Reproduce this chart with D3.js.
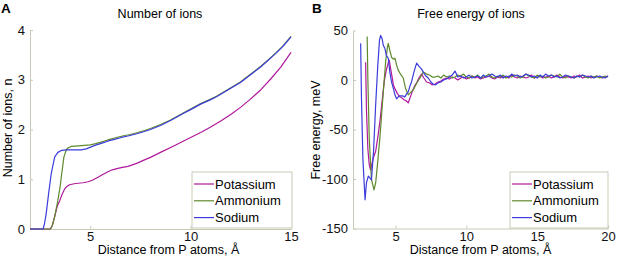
<!DOCTYPE html>
<html>
<head>
<meta charset="utf-8">
<script src="https://cdn.jsdelivr.net/npm/d3@7"></script>
<style>
  body { margin: 0; background: #fff; }
  svg text { font-family: "Liberation Sans", Arial, sans-serif; }
</style>
</head>
<body>
<div id="chart"></div>
<script>
(function () {

  // Series names and colours
  const seriesNames = ['Potassium', 'Ammonium', 'Sodium']
  const seriesColors = ['#b0189c', '#5e8a2c', '#3c3cdc']

  // Panel A: number of ions vs distance  [distance, n]
  const ionsPotassium = [[2, 0], [3.0, 0], [3.1, 0.06], [3.23, 0.25], [3.35, 0.45], [3.48, 0.57], [3.6, 0.7], [3.72, 0.8], [3.85, 0.86], [3.97, 0.89], [4.2, 0.91], [4.39, 0.92], [4.65, 0.93], [4.89, 0.95], [5.1, 0.98], [5.39, 1.04], [5.6, 1.09], [5.88, 1.15], [6.1, 1.19], [6.38, 1.22], [6.6, 1.24], [6.88, 1.26], [7.1, 1.29], [7.37, 1.33], [7.7, 1.39], [8.0, 1.44], [8.5, 1.54], [9.21, 1.68], [9.6, 1.76], [10.0, 1.84], [10.5, 1.94], [11.0, 2.05], [11.5, 2.17], [12.0, 2.3], [12.5, 2.45], [12.95, 2.6], [13.5, 2.8], [14.0, 3.02], [14.5, 3.26], [15.0, 3.55]]
  const ionsAmmonium = [[2, 0], [3.03, 0], [3.12, 0.08], [3.23, 0.25], [3.39, 0.58], [3.5, 0.85], [3.56, 1.05], [3.69, 1.45], [3.78, 1.56], [3.86, 1.62], [4.05, 1.66], [4.4, 1.67], [4.72, 1.68], [5.0, 1.69], [5.22, 1.71], [5.5, 1.74], [5.88, 1.79], [6.3, 1.84], [6.71, 1.88], [7.0, 1.9], [7.37, 1.94], [7.7, 1.98], [8.0, 2.02], [8.5, 2.1], [9.0, 2.19], [9.63, 2.33], [10.0, 2.41], [10.5, 2.52], [11.0, 2.61], [11.29, 2.67], [12.0, 2.84], [12.5, 2.96], [12.95, 3.1], [13.5, 3.27], [14.0, 3.45], [14.27, 3.55], [14.6, 3.68], [15.0, 3.87]]
  const ionsSodium = [[2, 0], [2.65, 0], [2.72, 0.1], [2.81, 0.32], [2.93, 0.72], [3.06, 1.12], [3.23, 1.45], [3.39, 1.54], [3.56, 1.58], [3.8, 1.59], [4.05, 1.59], [4.3, 1.59], [4.55, 1.59], [4.8, 1.61], [5.05, 1.65], [5.3, 1.69], [5.55, 1.72], [5.9, 1.77], [6.21, 1.8], [6.55, 1.84], [6.88, 1.87], [7.37, 1.92], [7.7, 1.96], [8.0, 2.0], [8.5, 2.08], [9.0, 2.18], [9.63, 2.32], [10.0, 2.4], [10.5, 2.51], [11.0, 2.6], [11.29, 2.66], [12.0, 2.83], [12.5, 2.95], [12.95, 3.09], [13.5, 3.26], [14.0, 3.44], [14.27, 3.54], [14.6, 3.67], [15.0, 3.86]]

  // Panel B: free energy vs distance, near region  [distance, meV]
  const energyPotassiumNear = [[2.89, 18], [2.95, -30], [3.05, -70], [3.15, -86], [3.24, -91], [3.35, -84], [3.45, -78], [3.6, -72], [3.75, -58], [3.9, -42], [4.05, -22], [4.2, -2], [4.35, 10], [4.5, 18], [4.56, 20], [4.65, 12], [4.75, 4], [4.85, -5], [5.0, -10], [5.15, -14], [5.31, -17], [5.45, -18], [5.6, -20], [5.75, -21], [5.9, -23], [6.05, -17], [6.2, -11], [6.35, -6], [6.49, -3], [6.65, 2], [6.84, 6], [7.0, 2], [7.2, -2], [7.42, -3], [7.6, -5]]
  const energyAmmoniumNear = [[3.0, 44], [3.05, 0], [3.15, -60], [3.3, -100], [3.48, -111], [3.6, -104], [3.75, -82], [3.9, -58], [4.02, -35], [4.15, -10], [4.3, 18], [4.42, 32], [4.49, 37], [4.6, 30], [4.72, 23], [4.85, 21], [4.96, 22], [5.08, 15], [5.19, 10], [5.35, 6], [5.55, 2], [5.7, -8], [5.9, -15], [6.1, -12], [6.25, -10], [6.5, -3], [6.73, 2], [6.96, 8], [7.2, 6], [7.4, 5], [7.6, 3]]
  const energySodiumNear = [[2.54, 37], [2.6, -20], [2.7, -80], [2.85, -121], [2.95, -104], [3.08, -97], [3.2, -99], [3.3, -101], [3.45, -72], [3.6, -25], [3.75, 15], [3.87, 40], [3.95, 45], [4.05, 42], [4.14, 35], [4.25, 32], [4.35, 25], [4.49, 22], [4.6, 8], [4.72, -2], [4.84, -8], [4.96, -15], [5.08, -19], [5.2, -17], [5.31, -16], [5.5, -16], [5.66, -17], [5.78, -14], [5.9, -12], [6.02, -6], [6.13, -2], [6.3, 8], [6.49, 17], [6.65, 14], [6.84, 11], [7.0, 7], [7.15, 4], [7.31, 2], [7.5, -2], [7.65, -4]]

  // Panel B: far region, one value every 0.2 Å starting at 7.8 Å
  const tailStart = 7.8
  const tailStep = 0.2
  const energyPotassiumTail = [-4, -2, -1, 1, 2, 1, 3, 2, 0, 2, 3, 1, 2, 4, 2, 3, 1, 2, 3, 4, 2, 1, 3, 2, 4, 3, 2, 5, 3, 2, 4, 3, 2, 3, 5, 2, 3, 4, 2, 3, 4, 2, 3, 5, 3, 2, 4, 3, 2, 4, 3, 5, 2, 3, 4, 2, 3, 4, 3, 2, 3, 4]
  const energyAmmoniumTail = [3, 4, 2, 5, 3, 4, 2, 3, 5, 4, 6, 3, 2, 4, 3, 5, 2, 3, 4, 6, 3, 2, 4, 3, 5, 2, 4, 3, 5, 4, 2, 3, 6, 4, 3, 2, 5, 3, 4, 2, 3, 5, 4, 3, 6, 3, 2, 4, 3, 2, 4, 3, 5, 3, 2, 4, 3, 4, 2, 3, 4, 3]
  const energySodiumTail = [-5, -3, -2, 0, 1, 3, 5, 9, 3, 4, 2, 3, 5, 2, 3, 4, 2, 5, 3, 4, 6, 4, 3, 5, 2, 4, 3, 6, 4, 5, 3, 4, 6, 5, 3, 4, 2, 5, 3, 6, 4, 5, 3, 4, 2, 3, 5, 4, 3, 2, 4, 3, 5, 4, 3, 4, 2, 3, 4, 3, 2, 4]

  // Tick values
  const ticksAX = [5, 10, 15]
  const ticksAY = [0, 1, 2, 3, 4]
  const ticksBX = [5, 10, 15, 20]
  const ticksBY = [-150, -100, -50, 0, 50]

  const W = 617, H = 257
  const axisColor = '#c9c9b6'

  const svg = d3.select('#chart').append('svg')
    .attr('width', W).attr('height', H)

  // Une la zona cercana con la cola
  const joinTail = (near, tail) => near.concat(tail.map((v, i) => [tailStart + i * tailStep, v]))

  const draw_panel = (opt) => {
    const x = d3.scaleLinear().domain(opt.xDomain).range(opt.xRange)
    const y = d3.scaleLinear().domain(opt.yDomain).range(opt.yRange)
    const g = svg.append('g')

    // Ejes
    const gx = g.append('g')
      .attr('transform', `translate(0,${opt.yRange[0]})`)
      .call(d3.axisBottom(x).tickValues(opt.ticksX).tickFormat(d3.format('d'))
        .tickSizeInner(-3).tickSizeOuter(0).tickPadding(3))
    const gy = g.append('g')
      .attr('transform', `translate(${opt.xRange[0]},0)`)
      .call(d3.axisLeft(y).tickValues(opt.ticksY).tickFormat(d3.format('d'))
        .tickSizeInner(-3).tickSizeOuter(0).tickPadding(5))
    ;[gx, gy].forEach(a => {
      a.select('.domain').attr('stroke', axisColor)
      a.selectAll('.tick line').attr('stroke', axisColor)
      a.selectAll('.tick text').attr('font-size', 13).attr('fill', '#111')
        .attr('font-family', '"Liberation Sans", Arial, sans-serif')
    })
    // el signo menos como guion simple, como en el original
    gy.selectAll('.tick text').text(d => String(d))

    // Líneas
    const line = d3.line().x(d => x(d[0])).y(d => y(d[1]))
    opt.series.forEach((s, i) => {
      g.append('path')
        .datum(s)
        .attr('fill', 'none')
        .attr('stroke', seriesColors[i])
        .attr('stroke-width', 1.2)
        .attr('stroke-linejoin', 'round')
        .attr('d', line)
    })

    // Títulos
    g.append('text')
      .attr('x', opt.titleX).attr('y', 18)
      .attr('text-anchor', 'middle').attr('font-size', 12.5)
      .text(opt.title)
    g.append('text')
      .attr('x', (opt.xRange[0] + opt.xRange[1]) / 2 + opt.xLabelShift).attr('y', 254)
      .attr('text-anchor', 'middle').attr('font-size', 12.5)
      .text('Distance from P atoms, Å')
    g.append('text')
      .attr('transform', `translate(${opt.yLabelX},${opt.yLabelY}) rotate(-90)`)
      .attr('text-anchor', 'middle').attr('font-size', 12.5)
      .text(opt.yLabel)
    g.append('text')
      .attr('x', opt.letterX).attr('y', 13)
      .attr('font-size', 13.5).attr('font-weight', 'bold')
      .text(opt.letter)

    // Leyenda
    const lg = g.append('g').attr('transform', `translate(${opt.legend[0]},${opt.legend[1]})`)
    lg.append('rect')
      .attr('x', 0).attr('y', 0)
      .attr('width', opt.legend[2]).attr('height', 56)
      .attr('fill', '#fff').attr('stroke', axisColor)
    seriesNames.forEach((name, i) => {
      const yy = 12 + i * 16.8
      lg.append('line')
        .attr('x1', 2).attr('x2', 22).attr('y1', yy).attr('y2', yy)
        .attr('stroke', seriesColors[i]).attr('stroke-width', 1.2)
      lg.append('text')
        .attr('x', 23).attr('y', yy + 4.6)
        .attr('font-size', 13)
        .text(name)
    })
  }

  draw_panel({
    xDomain: [2, 15], xRange: [30, 291],
    yDomain: [0, 4], yRange: [229, 30],
    ticksX: ticksAX, ticksY: ticksAY,
    series: [ionsPotassium, ionsAmmonium, ionsSodium],
    title: 'Number of ions', titleX: 160,
    xLabelShift: 8,
    yLabel: 'Number of ions, n', yLabelX: 12, yLabelY: 128,
    letter: 'A', letterX: 1,
    legend: [192, 172, 100]
  })

  draw_panel({
    xDomain: [2, 20], xRange: [353, 608],
    yDomain: [-150, 50], yRange: [228.5, 30.5],
    ticksX: ticksBX, ticksY: ticksBY,
    series: [
      joinTail(energyPotassiumNear, energyPotassiumTail),
      joinTail(energyAmmoniumNear, energyAmmoniumTail),
      joinTail(energySodiumNear, energySodiumTail)
    ],
    title: 'Free energy of ions', titleX: 471,
    xLabelShift: 0,
    yLabel: 'Free energy, meV', yLabelX: 320, yLabelY: 130,
    letter: 'B', letterX: 312,
    legend: [510, 172, 98]
  })

})()
</script>
</body>
</html>
